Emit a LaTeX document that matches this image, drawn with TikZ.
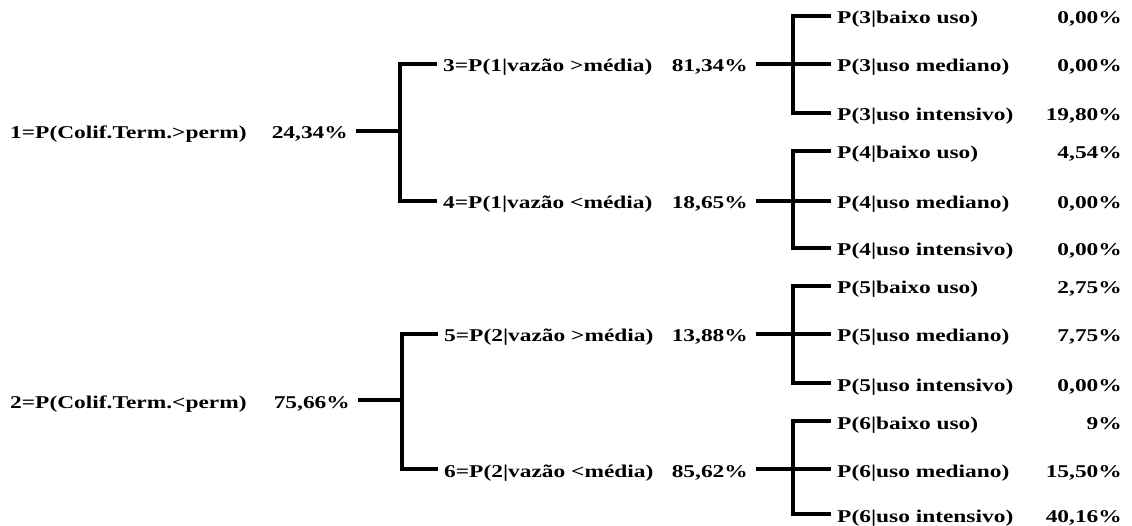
\documentclass[tikz,border=0pt]{standalone}
\usepackage{fontspec}
\setmainfont{Liberation Serif}[FakeStretch=1.3]
\begin{document}
\begin{tikzpicture}[x=1pt,y=-1pt,
  txt/.style={font=\fontsize{18}{20}\selectfont\bfseries, inner ysep=0pt, text height=16pt, text depth=0pt},
  lab/.style={txt, anchor=west, inner xsep=6pt},
  val/.style={txt, anchor=east, inner xsep=8pt},
  conn/.style={line width=3.6pt, line join=miter, line cap=butt}]
\useasboundingbox (0,0) rectangle (1132,526);
% level 1
\node[lab,inner xsep=0pt] (n1) at (10,131) {1=P(Colif.Term.>perm)};
\node[val] (v1) at (356,131) {24,34\%};
\node[lab,inner xsep=0pt] (n2) at (10,400) {2=P(Colif.Term.<perm)};
\node[val] (v2) at (358,400) {75,66\%};
% level 2
\node[lab] (n3) at (437,64) {3=P(1|vazão >média)};
\node[val] (v3) at (756,64) {81,34\%};
\node[lab] (n4) at (437,201) {4=P(1|vazão <média)};
\node[val] (v4) at (756,201) {18,65\%};
\node[lab] (n5) at (438,334) {5=P(2|vazão >média)};
\node[val] (v5) at (756,334) {13,88\%};
\node[lab] (n6) at (438,469) {6=P(2|vazão <média)};
\node[val] (v6) at (756,469) {85,62\%};
% leaves
\node[lab] (l3a) at (831,16) {P(3|baixo uso)};
\node[val] (w3a) at (1130,16) {0,00\%};
\node[lab] (l3b) at (831,64) {P(3|uso mediano)};
\node[val] (w3b) at (1130,64) {0,00\%};
\node[lab] (l3c) at (831,113) {P(3|uso intensivo)};
\node[val] (w3c) at (1130,113) {19,80\%};
\node[lab] (l4a) at (831,151) {P(4|baixo uso)};
\node[val] (w4a) at (1130,151) {4,54\%};
\node[lab] (l4b) at (831,201) {P(4|uso mediano)};
\node[val] (w4b) at (1130,201) {0,00\%};
\node[lab] (l4c) at (831,248) {P(4|uso intensivo)};
\node[val] (w4c) at (1130,248) {0,00\%};
\node[lab] (l5a) at (831,286) {P(5|baixo uso)};
\node[val] (w5a) at (1130,286) {2,75\%};
\node[lab] (l5b) at (831,334) {P(5|uso mediano)};
\node[val] (w5b) at (1130,334) {7,75\%};
\node[lab] (l5c) at (831,383) {P(5|uso intensivo)};
\node[val] (w5c) at (1130,383) {0,00\%};
\node[lab] (l6a) at (831,421) {P(6|baixo uso)};
\node[val] (w6a) at (1130,421) {9\%};
\node[lab] (l6b) at (831,469) {P(6|uso mediano)};
\node[val] (w6b) at (1130,469) {15,50\%};
\node[lab] (l6c) at (831,514) {P(6|uso intensivo)};
\node[val] (w6c) at (1130,514) {40,16\%};
% bracket points
\coordinate (b1) at (400,131);
\coordinate (b2) at (402,400);
\coordinate (b3) at (793,64);
\coordinate (b4) at (793,201);
\coordinate (b5) at (793,334);
\coordinate (b6) at (793,469);
% connectors
\draw[conn] (v1.east) -- (b1);
\draw[conn] (n3.west) -| (b1) |- (n4.west);
\draw[conn] (v2.east) -- (b2);
\draw[conn] (n5.west) -| (b2) |- (n6.west);
\draw[conn] (v3.east) -- (b3) -- (l3b.west);
\draw[conn] (l3a.west) -| (b3) |- (l3c.west);
\draw[conn] (v4.east) -- (b4) -- (l4b.west);
\draw[conn] (l4a.west) -| (b4) |- (l4c.west);
\draw[conn] (v5.east) -- (b5) -- (l5b.west);
\draw[conn] (l5a.west) -| (b5) |- (l5c.west);
\draw[conn] (v6.east) -- (b6) -- (l6b.west);
\draw[conn] (l6a.west) -| (b6) |- (l6c.west);
\end{tikzpicture}
\end{document}
